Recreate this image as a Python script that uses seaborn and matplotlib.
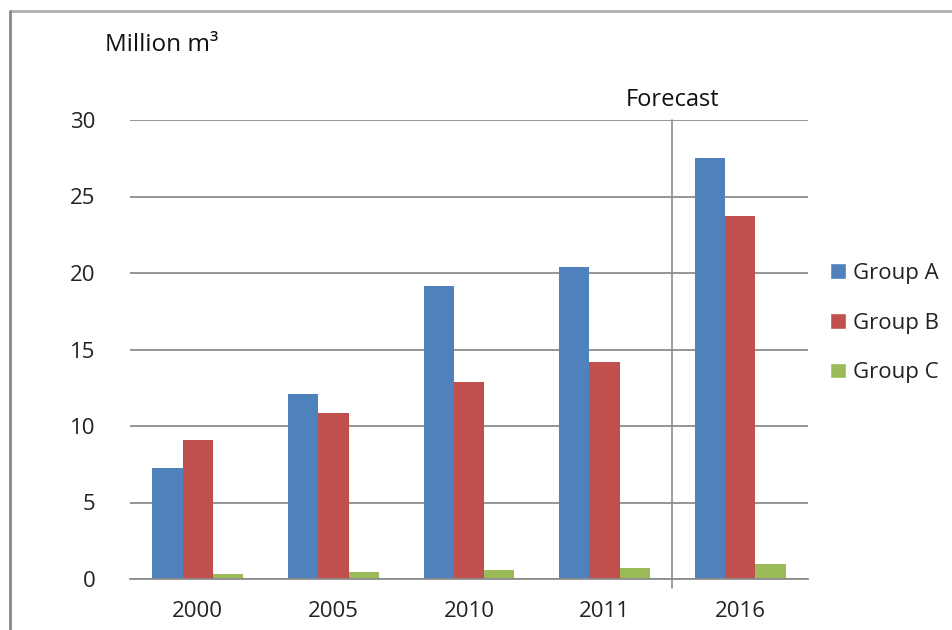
import pandas as pd
import seaborn as sns
import matplotlib.pyplot as plt
from matplotlib.lines import Line2D
from matplotlib.patches import Patch

years = ['2000', '2005', '2010', '2011', '2016']
groups = ['Group A', 'Group B', 'Group C']
group_a = [7.25, 12.1, 19.15, 20.4, 27.5]
group_b = [9.1, 10.85, 12.9, 14.2, 23.75]
group_c = [0.35, 0.45, 0.6, 0.7, 0.95]
colors = ['#4F81BD', '#C0504D', '#9BBB59']


def build_frame():
    rows = []
    for name, vals in zip(groups, [group_a, group_b, group_c]):
        for y, v in zip(years, vals):
            rows.append({'Year': y, 'Group': name, 'Value': v})
    return pd.DataFrame(rows)


def plot_chart():
    df = build_frame()
    sns.set_style('white')
    plt.rcParams['font.family'] = ['Open Sans', 'DejaVu Sans']

    fig = plt.figure(figsize=(9.53, 6.3), dpi=100)
    ax = fig.add_axes([130 / 953, 51 / 630, 678 / 953, 459 / 630])

    sns.barplot(data=df, x='Year', y='Value', hue='Group', order=years,
                hue_order=groups, palette=colors, width=0.67, gap=0,
                saturation=1, ax=ax, legend=False, linewidth=0)

    ax.set_xlim(-0.5, len(years) - 0.5)
    ax.set_ylim(0, 30)
    ax.set_yticks(range(0, 31, 5))
    ax.yaxis.grid(True, color='#8c8c8c', linewidth=1.3)
    ax.set_axisbelow(True)
    for s in ['top', 'right', 'left']:
        ax.spines[s].set_visible(False)
    ax.spines['bottom'].set_color('#8c8c8c')
    ax.spines['bottom'].set_linewidth(1.3)
    ax.set_xlabel('')
    ax.set_ylabel('')

    ax.set_xticks([i - 0.5 for i in range(len(years) + 1)], minor=True)
    ax.tick_params(axis='x', which='minor', length=9, width=1.2, color='#8c8c8c')
    ax.tick_params(axis='x', which='major', length=0, pad=16, labelsize=16, labelcolor='#222222')
    ax.tick_params(axis='y', length=0, pad=25, labelsize=16, labelcolor='#222222')

    # forecast divider
    ax.add_line(Line2D([3.5, 3.5], [-0.6, 30], color='#8c8c8c', linewidth=1.2,
                       clip_on=False))
    ax.text(3.5, 30.5, 'Forecast', ha='center', va='bottom', fontsize=17, color='#111111')

    fig.text(105 / 953, 1 - 45 / 630, 'Million m³', ha='left', va='center',
             fontsize=17.5, color='#111111')

    handles = [Patch(facecolor=c, label=g) for c, g in zip(colors, groups)]
    fig.legend(handles=handles, loc='center left', bbox_to_anchor=(810 / 953, 1 - 323 / 630),
               frameon=False, fontsize=16, handlelength=0.7, handleheight=0.7,
               handletextpad=0.35, labelspacing=1.3, labelcolor='#222222')

    # outer frame
    fig.add_artist(Line2D([10 / 953, 1], [1 - 11 / 630, 1 - 11 / 630], color='#b0b0b0',
                          linewidth=2, transform=fig.transFigure))
    fig.add_artist(Line2D([10 / 953, 10 / 953], [0, 1 - 11 / 630], color='#888888',
                          linewidth=2, transform=fig.transFigure))

    fig.savefig('out.png', dpi=100)


if __name__ == '__main__':
    plot_chart()
